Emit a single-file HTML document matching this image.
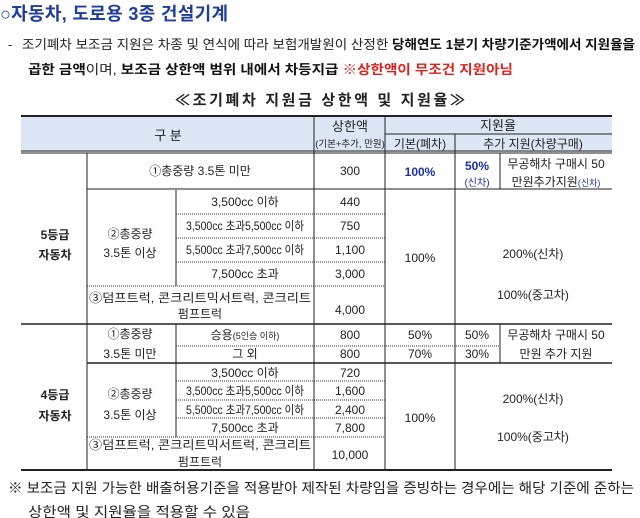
<!DOCTYPE html>
<html><head><meta charset="utf-8"><style>
html,body{margin:0;padding:0;background:#fff;width:640px;height:518px;overflow:hidden}
svg{display:block;font-family:"Liberation Sans","Noto Sans CJK KR",sans-serif}
text{fill:#222}
</style></head><body>
<svg width="640" height="518" viewBox="0 0 640 518" xmlns="http://www.w3.org/2000/svg">
<text x="0" y="20" font-size="18" font-weight="bold" style="fill:#1f3d9b" textLength="228">○자동차, 도로용 3종 건설기계</text>
<text x="8" y="49" font-size="13">-</text>
<text x="22" y="49" font-size="13" textLength="613" lengthAdjust="spacingAndGlyphs">조기폐차 보조금 지원은 차종 및 연식에 따라 보험개발원이 산정한 <tspan font-weight="bold" style="fill:#111">당해연도 1분기 차량기준가액에서 지원율을</tspan></text>
<text x="28" y="74" font-size="13" textLength="485" lengthAdjust="spacingAndGlyphs"><tspan font-weight="bold" style="fill:#111">곱한 금액</tspan>이며, <tspan font-weight="bold" style="fill:#111">보조금 상한액 범위 내에서 차등지급 </tspan><tspan font-weight="bold" style="fill:#e0201a">※상한액이 무조건 지원아님</tspan></text>
<text x="320" y="105" font-size="15" font-weight="bold" text-anchor="middle" textLength="290">≪조기폐차 지원금 상한액 및 지원율≫</text>

<rect x="21" y="116" width="591" height="36" fill="#dce6f4"/>
<g stroke="#222" fill="none">
<line x1="21" y1="116" x2="612" y2="116" stroke-width="2"/>
<line x1="385" y1="134" x2="612" y2="134" stroke-width="1"/>
<line x1="21" y1="151" x2="612" y2="151" stroke-width="1"/>
<line x1="21" y1="153" x2="612" y2="153" stroke-width="1"/>
<line x1="87" y1="153" x2="87" y2="470"/>
<line x1="314" y1="116" x2="314" y2="470"/>
<line x1="385" y1="116" x2="385" y2="470"/>
<line x1="455" y1="134" x2="455" y2="470"/>
<line x1="500" y1="153" x2="500" y2="189"/>
<line x1="500" y1="324" x2="500" y2="363"/>
<line x1="176" y1="190" x2="176" y2="286"/>
<line x1="176" y1="324" x2="176" y2="363"/>
<line x1="176" y1="363" x2="176" y2="437"/>
<line x1="87" y1="189" x2="612" y2="189"/>
<line x1="21" y1="324" x2="612" y2="324" stroke-width="1.5"/>
<line x1="87" y1="363" x2="612" y2="363" stroke-width="1.5"/>
<line x1="21" y1="470" x2="612" y2="470" stroke-width="2"/>
</g>
<g stroke="#333" stroke-dasharray="1,1" fill="none">
<line x1="176" y1="214" x2="385" y2="214"/>
<line x1="176" y1="238" x2="385" y2="238"/>
<line x1="176" y1="262" x2="385" y2="262"/>
<line x1="87" y1="286" x2="385" y2="286"/>
<line x1="176" y1="346" x2="500" y2="346"/>
<line x1="176" y1="381" x2="385" y2="381"/>
<line x1="176" y1="400" x2="385" y2="400"/>
<line x1="176" y1="418" x2="385" y2="418"/>
<line x1="87" y1="437" x2="385" y2="437"/>
</g>
<g font-size="12" text-anchor="middle">
<text x="168" y="140" font-size="13">구  분</text>
<text x="350" y="131" font-size="13">상한액</text>
<text x="350" y="147" font-size="9.5">(기본+추가, 만원)</text>
<text x="498" y="130" font-size="13">지원율</text>
<text x="420" y="148" font-size="12">기본(폐차)</text>
<text x="533" y="148" font-size="12">추가 지원(차량구매)</text>

<text x="200" y="175">①총중량 3.5톤 미만</text>
<text x="350" y="175">300</text>
<text x="420" y="176" font-weight="bold" style="fill:#1a2fb0">100%</text>
<text x="477" y="170" font-weight="bold" style="fill:#1a2fb0">50%</text>
<text x="477" y="186" font-size="10" style="fill:#1a2fb0">(신차)</text>
<text x="556" y="168">무공해차 구매시 50</text>
<text x="556" y="186">만원추가지원<tspan font-size="9" style="fill:#1a2fb0">(신차)</tspan></text>

<text x="55" y="239" font-weight="bold">5등급</text>
<text x="55" y="259" font-weight="bold">자동차</text>
<text x="130" y="238">②총중량</text>
<text x="130" y="257">3.5톤 이상</text>
<text x="245" y="206">3,500cc 이하</text>
<text x="245" y="230" textLength="118" lengthAdjust="spacingAndGlyphs">3,500cc 초과5,500cc 이하</text>
<text x="245" y="254" textLength="118" lengthAdjust="spacingAndGlyphs">5,500cc 초과7,500cc 이하</text>
<text x="245" y="278">7,500cc 초과</text>
<text x="200" y="302" textLength="222" lengthAdjust="spacingAndGlyphs">③덤프트럭, 콘크리트믹서트럭, 콘크리트</text>
<text x="200" y="318">펌프트럭</text>
<text x="350" y="206">440</text>
<text x="350" y="230">750</text>
<text x="350" y="254">1,100</text>
<text x="350" y="278">3,000</text>
<text x="350" y="314">4,000</text>
<text x="420" y="262">100%</text>
<text x="533" y="258">200%(신차)</text>
<text x="533" y="299">100%(중고차)</text>

<text x="130" y="338">①총중량</text>
<text x="130" y="358">3.5톤 미만</text>
<text x="245" y="339">승용<tspan font-size="9">(5인승 이하)</tspan></text>
<text x="245" y="358">그 외</text>
<text x="350" y="339">800</text>
<text x="350" y="358">800</text>
<text x="420" y="339">50%</text>
<text x="420" y="358">70%</text>
<text x="477" y="339">50%</text>
<text x="477" y="358">30%</text>
<text x="556" y="339">무공해차 구매시 50</text>
<text x="556" y="358">만원 추가 지원</text>

<text x="55" y="399" font-weight="bold">4등급</text>
<text x="55" y="420" font-weight="bold">자동차</text>
<text x="130" y="398">②총중량</text>
<text x="130" y="419">3.5톤 이상</text>
<text x="245" y="377">3,500cc 이하</text>
<text x="245" y="395" textLength="118" lengthAdjust="spacingAndGlyphs">3,500cc 초과5,500cc 이하</text>
<text x="245" y="414" textLength="118" lengthAdjust="spacingAndGlyphs">5,500cc 초과7,500cc 이하</text>
<text x="245" y="432">7,500cc 초과</text>
<text x="200" y="449" textLength="222" lengthAdjust="spacingAndGlyphs">③덤프트럭, 콘크리트믹서트럭, 콘크리트</text>
<text x="200" y="466">펌프트럭</text>
<text x="350" y="377">720</text>
<text x="350" y="395">1,600</text>
<text x="350" y="414">2,400</text>
<text x="350" y="432">7,800</text>
<text x="350" y="459">10,000</text>
<text x="420" y="422">100%</text>
<text x="533" y="403">200%(신차)</text>
<text x="533" y="441">100%(중고차)</text>
</g>
<text x="8" y="493" font-size="14" textLength="626" lengthAdjust="spacingAndGlyphs">※ 보조금 지원 가능한 배출허용기준을 적용받아 제작된 차량임을 증빙하는 경우에는 해당 기준에 준하는</text>
<text x="28" y="517" font-size="14" textLength="222" lengthAdjust="spacingAndGlyphs">상한액 및 지원율을 적용할 수 있음</text>
</svg>
</body></html>
